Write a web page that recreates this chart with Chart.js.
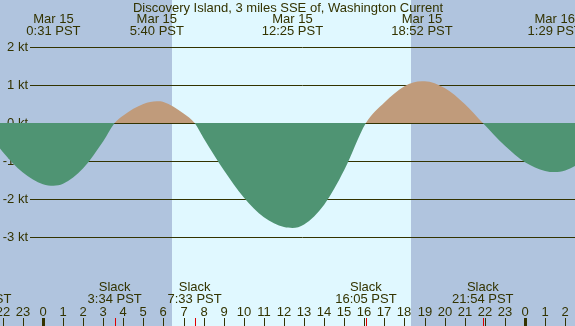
<!DOCTYPE html>
<html>
<head>
<meta charset="utf-8">
<script src="https://cdn.jsdelivr.net/npm/chart.js@4"></script>
<style>
  body { margin: 0; background: #b0c4de; }
  #wrap { width: 575px; height: 326px; }
</style>
</head>
<body>
<div id="wrap"><canvas id="tide" width="575" height="326"></canvas></div>
<script>
// time is hours from Mar 15 0:00 PST, speed in knots
const times = [-3.1, -2, -1, 0, 0.52, 1, 2, 3, 3.57, 4, 5, 5.67, 6, 7, 7.55, 8, 9, 10, 11, 12, 12.42,
  13, 14, 15, 16.08, 17, 18, 18.87, 19, 20, 21, 21.9, 23, 24, 25, 25.48, 26, 27];
const speeds = [0, -0.76, -1.30, -1.61, -1.65, -1.60, -1.19, -0.48, 0, 0.20, 0.50, 0.57, 0.55, 0.25, 0,
  -0.40, -1.24, -1.96, -2.48, -2.74, -2.76, -2.67, -2.15, -1.24, 0, 0.54, 0.97, 1.10, 1.10, 0.92, 0.50, 0,
  -0.60, -1.03, -1.26, -1.29, -1.25, -0.98];

const extremeTimes = [0.52, 5.67, 12.42, 18.87, 25.48];
const extremeLabels = [['Mar 15', '0:31 PST'], ['Mar 15', '5:40 PST'], ['Mar 15', '12:25 PST'],
  ['Mar 15', '18:52 PST'], ['Mar 16', '1:29 PST']];
const slackTimes = [-3.1, 3.57, 7.55, 16.08, 21.9];
const slackLabels = ['20:54 PST', '3:34 PST', '7:33 PST', '16:05 PST', '21:54 PST'];
const kts = [2, 1, 0, -1, -2, -3];
const ktLabels = ['2 kt', '1 kt', '0 kt', '-1 kt', '-2 kt', '-3 kt'];
const hours = [-2, -1, 0, 1, 2, 3, 4, 5, 6, 7, 8, 9, 10, 11, 12, 13, 14, 15, 16, 17, 18, 19, 20, 21, 22, 23, 24, 25, 26];
const sunrise = 6.42, sunset = 18.33;
const title = 'Discovery Island, 3 miles SSE of, Washington Current';

const ink = '#333300';
const font = '13px "Liberation Sans", Arial, sans-serif';

const tidePlugin = {
  id: 'tide',
  beforeDraw(chart) {
    const { ctx, scales: { x } } = chart;
    ctx.save();
    ctx.fillStyle = '#b0c4de';
    ctx.fillRect(0, 0, chart.width, chart.height);
    ctx.fillStyle = '#e0f8ff';
    const x0 = Math.round(x.getPixelForValue(sunrise)), x1 = Math.round(x.getPixelForValue(sunset));
    ctx.fillRect(x0, 0, x1 - x0, chart.height);
    ctx.restore();
  },
  beforeDatasetsDraw(chart) {
    const { ctx, scales: { y } } = chart;
    ctx.save();
    ctx.strokeStyle = ink;
    ctx.lineWidth = 1;
    ctx.fillStyle = ink;
    ctx.font = font;
    ctx.textAlign = 'right';
    ctx.textBaseline = 'middle';
    kts.forEach((k, i) => {
      const py = Math.round(y.getPixelForValue(k)) + 0.5;
      ctx.beginPath();
      ctx.moveTo(30, py);
      ctx.lineTo(chart.width, py);
      ctx.stroke();
      ctx.fillText(ktLabels[i], 28, py);
    });
    ctx.restore();
  },
  afterDatasetsDraw(chart) {
    const { ctx, scales: { x } } = chart;
    ctx.save();
    ctx.fillStyle = ink;
    ctx.font = font;
    ctx.textAlign = 'center';
    ctx.textBaseline = 'middle';
    ctx.fillText(title, chart.width / 2 + 0.5, 8);
    extremeTimes.forEach((t, i) => {
      const px = x.getPixelForValue(t);
      ctx.fillText(extremeLabels[i][0], px, 19.5);
      ctx.fillText(extremeLabels[i][1], px, 31.5);
    });
    slackTimes.forEach((t, i) => {
      const px = x.getPixelForValue(t);
      ctx.fillText('Slack', px, 287.5);
      ctx.fillText(slackLabels[i], px, 299.5);
    });
    hours.forEach(h => {
      const px = Math.round(x.getPixelForValue(h));
      const lab = String(((h % 24) + 24) % 24);
      ctx.fillText(lab, px, 312);
      if (lab === '0') {
        ctx.fillRect(px - 1, 318, 3, 8);
      } else {
        ctx.fillRect(px, 318, 1, 8);
      }
    });
    ctx.fillStyle = '#dd0000';
    slackTimes.forEach(t => {
      const px = Math.round(x.getPixelForValue(t));
      ctx.fillRect(px, 318, 1, 8);
    });
    ctx.restore();
  }
};

new Chart(document.getElementById('tide'), {
  type: 'line',
  data: {
    datasets: [{
      data: times.map((t, i) => ({ x: t, y: speeds[i] })),
      borderWidth: 0,
      borderColor: 'rgba(0,0,0,0)',
      pointRadius: 0,
      cubicInterpolationMode: 'monotone',
      fill: { target: { value: 0 }, above: '#c09b7b', below: '#4f9473' }
    }]
  },
  options: {
    responsive: false,
    animation: false,
    layout: { padding: 0 },
    plugins: { legend: { display: false }, tooltip: { enabled: false } },
    scales: {
      x: { type: 'linear', display: false, min: -2.14, max: 26.49 },
      y: { display: false, min: -5.342, max: 3.237 }
    }
  },
  plugins: [tidePlugin]
});
</script>
</body>
</html>
